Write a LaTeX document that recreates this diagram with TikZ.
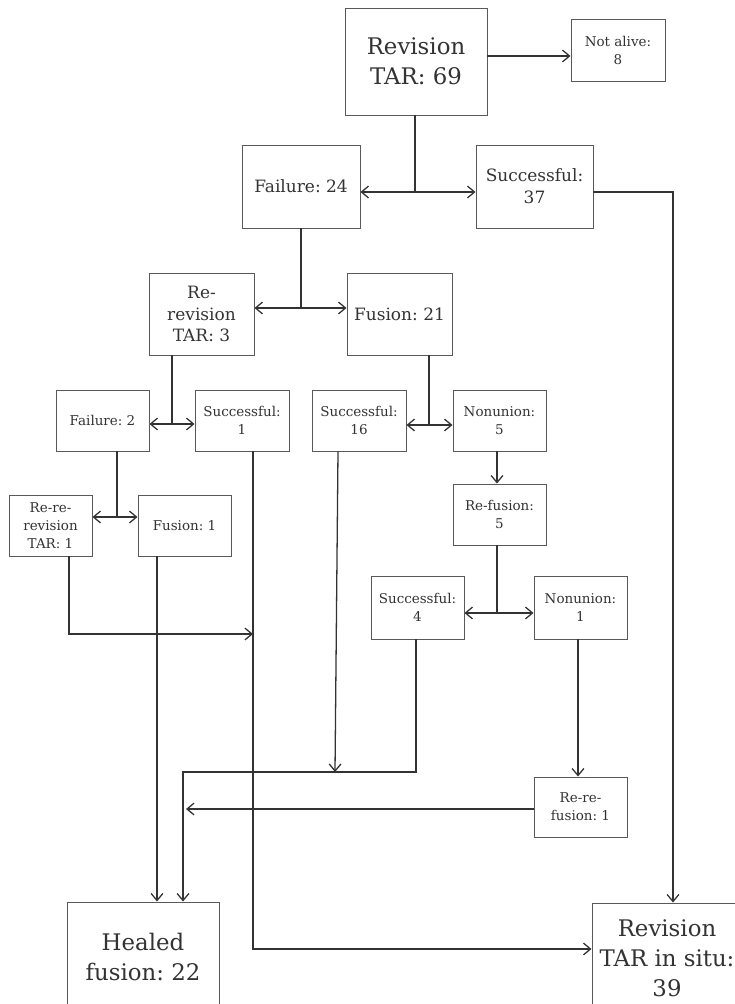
\documentclass[tikz,border=0pt]{standalone}
\usepackage{fontspec}
\setmainfont{DejaVu Serif}
\usetikzlibrary{arrows.meta}
\frenchspacing
\begin{document}
\begin{tikzpicture}[x=0.03cm,y=-0.03cm,
  box/.style={draw=black!65, line width=0.8pt, fill=white, align=center, inner sep=0pt, text=black!80},
  bigbox/.style={box, font=\fontsize{19.5}{25.6}\selectfont},
  medbox/.style={box, font=\fontsize{14.5}{18.5}\selectfont},
  smallbox/.style={box, font=\fontsize{11.5}{15.4}\selectfont},
  conn/.style={draw=black!80, line width=1.1pt},
  arr/.style={conn, -{Straight Barb[length=6pt,width=10pt]}},
  arrtwo/.style={conn, {Straight Barb[length=6pt,width=10pt]}-{Straight Barb[length=6pt,width=10pt]}}
]
\useasboundingbox (0,0) rectangle (735,1004);
\fill[white] (0,0) rectangle (735,1004);

% nodes
\node[bigbox, minimum width=4.26cm, minimum height=3.21cm] (rev) at (416,61.5) {Revision\\TAR: 69};
\node[smallbox, minimum width=2.82cm, minimum height=1.86cm] (notalive) at (618,50) {Not alive:\\8};
\node[medbox, minimum width=3.54cm, minimum height=2.49cm] (fail24) at (301,186.5) {Failure: 24};
\node[medbox, minimum width=3.51cm, minimum height=2.49cm] (succ37) at (534.5,186.5) {Successful:\\37};
\node[medbox, minimum width=3.15cm, minimum height=2.46cm] (rerev3) at (201.5,314) {Re-\\revision\\TAR: 3};
\node[medbox, minimum width=3.15cm, minimum height=2.46cm] (fus21) at (399.5,314) {Fusion: 21};
\node[smallbox, minimum width=2.79cm, minimum height=1.83cm] (fail2) at (102.5,420.5) {Failure: 2};
\node[smallbox, minimum width=2.82cm, minimum height=1.83cm] (succ1) at (242,420.5) {Successful:\\1};
\node[smallbox, minimum width=2.82cm, minimum height=1.83cm] (succ16) at (359,420.5) {Successful:\\16};
\node[smallbox, minimum width=2.79cm, minimum height=1.83cm] (non5) at (499.5,420.5) {Nonunion:\\5};
\node[smallbox, minimum width=2.79cm, minimum height=1.83cm] (refus5) at (499.5,514.5) {Re-fusion:\\5};
\node[smallbox, minimum width=2.49cm, minimum height=1.83cm] (rrrev1) at (50.5,525.5) {Re-re-\\revision\\TAR: 1};
\node[smallbox, minimum width=2.79cm, minimum height=1.83cm] (fus1) at (184.5,525.5) {Fusion: 1};
\node[smallbox, minimum width=2.79cm, minimum height=1.89cm] (succ4) at (417.5,607.5) {Successful:\\4};
\node[smallbox, minimum width=2.79cm, minimum height=1.89cm] (non1) at (580.5,607.5) {Nonunion:\\1};
\node[smallbox, minimum width=2.79cm, minimum height=1.80cm] (rrfus1) at (580.5,807) {Re-re-\\fusion: 1};
\node[bigbox, minimum width=4.56cm, minimum height=3.30cm] (healed) at (143,957) {Healed\\fusion: 22};
\node[bigbox, minimum width=4.50cm, minimum height=3.30cm] (insitu) at (667,958) {Revision\\TAR in situ:\\39};

% junction and bend coordinates
\coordinate (y56) at (0,56);
\coordinate (j1) at (415,192);
\coordinate (c37) at (673,192);
\coordinate (j2) at (301,308);
\coordinate (j3) at (172,424);
\coordinate (j4) at (429,425);
\coordinate (c5) at (497,0);
\coordinate (j5) at (497,613);
\coordinate (j6) at (117,517);
\coordinate (k1) at (69,634);
\coordinate (k2) at (253,634);
\coordinate (k3) at (253,949);
\coordinate (k4) at (157,0);
\coordinate (k5) at (338,0);
\coordinate (k6) at (335,772);
\coordinate (k7) at (416,772);
\coordinate (k8) at (183,772);
\coordinate (k9) at (578,0);
\coordinate (k10) at (186,809);

% connectors
\draw[arr] (rev.east |- y56) -- (notalive.west |- y56);
\draw[conn] (rev.south -| j1) -- (j1);
\draw[arrtwo] (fail24.east |- j1) -- (succ37.west |- j1);
\draw[arr] (succ37.east |- c37) -- (c37) -- (insitu.north -| c37);
\draw[conn] (fail24.south -| j2) -- (j2);
\draw[arrtwo] (rerev3.east |- j2) -- (fus21.west |- j2);
\draw[conn] (rerev3.south -| j3) -- (j3);
\draw[arrtwo] (fail2.east |- j3) -- (succ1.west |- j3);
\draw[conn] (fus21.south -| j4) -- (j4);
\draw[arrtwo] (succ16.east |- j4) -- (non5.west |- j4);
\draw[arr] (non5.south -| c5) -- (refus5.north -| c5);
\draw[conn] (refus5.south -| j5) -- (j5);
\draw[arrtwo] (succ4.east |- j5) -- (non1.west |- j5);
\draw[conn] (fail2.south -| j6) -- (j6);
\draw[arrtwo] (rrrev1.east |- j6) -- (fus1.west |- j6);
\draw[arr] (rrrev1.south -| k1) -- (k1) -- (k2);
\draw[arr] (succ1.south -| k3) -- (k3) -- (insitu.west |- k3);
\draw[arr] (fus1.south -| k4) -- (healed.north -| k4);
\draw[arr] (succ16.south -| k5) -- (k6);
\draw[arr] (succ4.south -| k7) -- (k7) -- (k8) -- (healed.north -| k8);
\draw[arr] (non1.south -| k9) -- (rrfus1.north -| k9);
\draw[arr] (rrfus1.west |- k10) -- (k10);
\end{tikzpicture}
\end{document}
